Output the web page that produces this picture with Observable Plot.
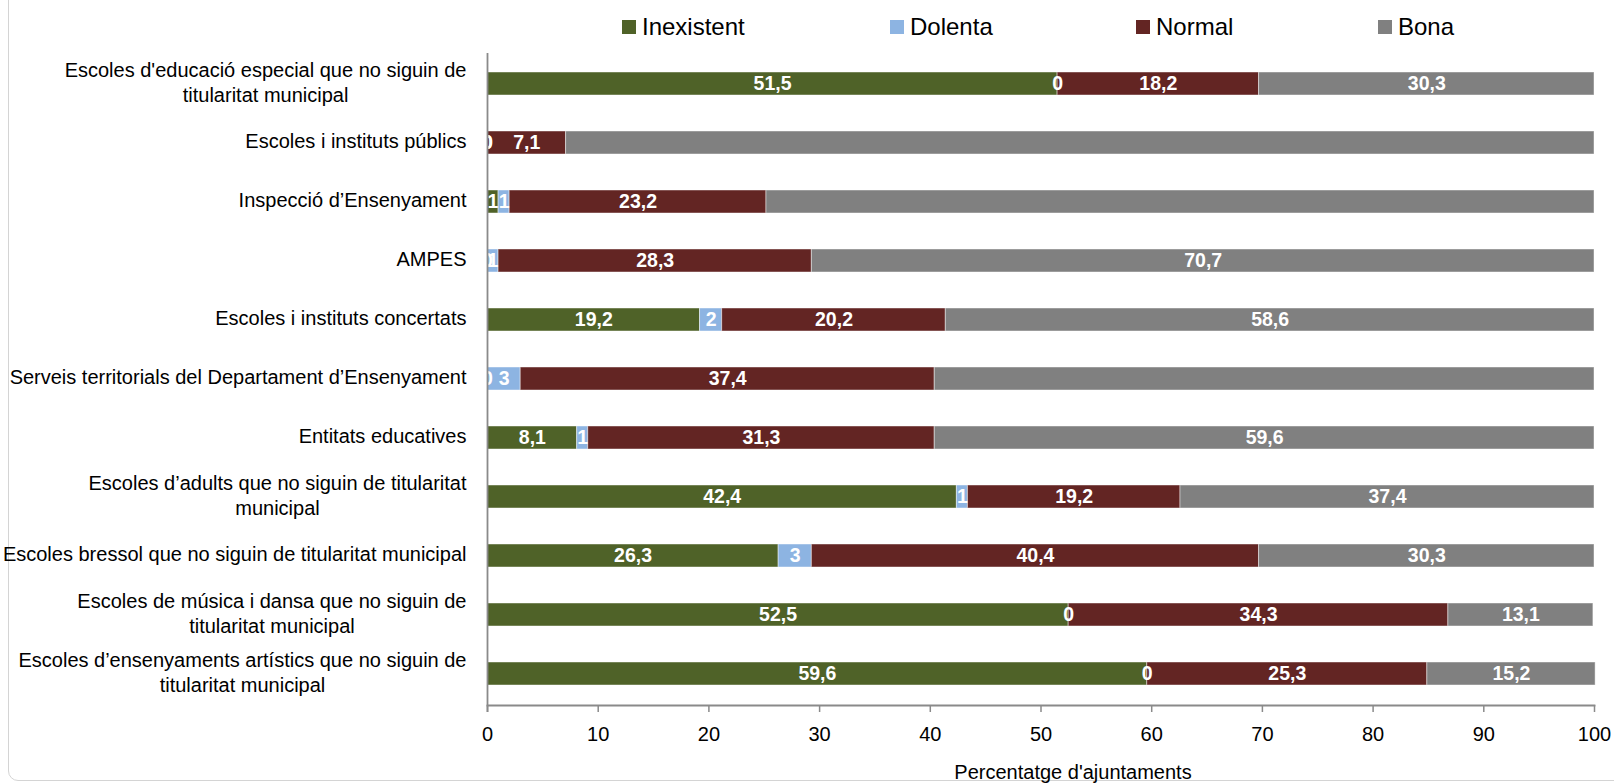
<!DOCTYPE html>
<html>
<head>
<meta charset="utf-8">
<script src="https://cdn.jsdelivr.net/npm/d3@7"></script>
<script src="https://cdn.jsdelivr.net/npm/@observablehq/plot@0.6"></script>
<style>
  html, body { margin: 0; padding: 0; background: #fff; overflow: hidden; }
  #wrap { position: relative; width: 1614px; height: 784px; font-family: "Liberation Sans", Arial, sans-serif; }
  #border { position: absolute; left: 8px; top: -20px; width: 1700px; height: 801px; border: 1px solid #d4d4d4; border-radius: 10px; box-sizing: border-box; }
  #legend { position: absolute; left: 0; top: 0; width: 1614px; height: 50px; }
  .item { position: absolute; top: 12px; height: 30px; display: flex; align-items: center; font-size: 24px; color: #000; white-space: nowrap; }
  .sw { width: 14px; height: 14px; margin-right: 6px; }
  #chart { position: absolute; left: 0; top: 0; }
</style>
</head>
<body>
<div id="wrap">
  <div id="border"></div>
  <div id="chart"></div>
  <div id="legend"></div>
</div>
<script>
const categories = [
  "Escoles d'educació especial que no siguin de\ntitularitat municipal",
  "Escoles i instituts públics",
  "Inspecció d’Ensenyament",
  "AMPES",
  "Escoles i instituts concertats",
  "Serveis territorials del Departament d’Ensenyament",
  "Entitats educatives",
  "Escoles d’adults que no siguin de titularitat\nmunicipal",
  "Escoles bressol que no siguin de titularitat municipal",
  "Escoles de música i dansa que no siguin de\ntitularitat municipal",
  "Escoles d’ensenyaments artístics que no siguin de\ntitularitat municipal"
];
const seriesNames = ["Inexistent", "Dolenta", "Normal", "Bona"];
const seriesColors = ["#4F6228", "#8DB4E2", "#632523", "#808080"];
const inexistent = [51.5, 0, 1, 0, 19.2, 0, 8.1, 42.4, 26.3, 52.5, 59.6];
const dolenta    = [0, 0, 1, 1, 2, 3, 1, 1, 3, 0, 0];
const normal     = [18.2, 7.1, 23.2, 28.3, 20.2, 37.4, 31.3, 19.2, 40.4, 34.3, 25.3];
const bona       = [30.3, 92.9, 74.8, 70.7, 58.6, 59.6, 59.6, 37.4, 30.3, 13.1, 15.2];
const hiddenBonaLabels = [1, 2, 5];
const xTicks = [0, 10, 20, 30, 40, 50, 60, 70, 80, 90, 100];
const xLabel = "Percentatge d'ajuntaments";

const seriesValues = [inexistent, dolenta, normal, bona];
const data = [];
categories.forEach((cat, i) => {
  seriesNames.forEach((s, j) => {
    data.push({
      cat, series: s, value: seriesValues[j][i],
      showLabel: !(s === "Bona" && hiddenBonaLabels.includes(i))
    });
  });
});
const fmt = v => String(v).replace(".", ",");

const plot = Plot.plot({
  width: 1614,
  height: 784,
  marginLeft: 487,
  marginRight: 20,
  marginTop: 53,
  marginBottom: 79,
  style: { fontFamily: "Liberation Sans, Arial, sans-serif", fontSize: "20px", background: "transparent" },
  x: { domain: [0, 100], axis: null },
  y: { domain: categories, axis: null, paddingInner: 0.607, paddingOuter: 0.3035 },
  color: { domain: seriesNames, range: seriesColors },
  marks: [
    Plot.barX(data, Plot.stackX({
      x: "value", y: "cat", fill: "series", order: seriesNames,
      stroke: "white", strokeOpacity: 0.45, strokeWidth: 1
    })),
    Plot.text(data, Plot.stackX({
      x: "value", y: "cat", z: "series", order: seriesNames,
      text: d => d.showLabel ? fmt(d.value) : "",
      fill: "white", fontWeight: "bold", fontSize: 19.5
    })),
    Plot.frame({ anchor: "bottom", stroke: "#8a8a8a", strokeWidth: 1.8 }),
    Plot.ruleX([0], { stroke: "#8a8a8a", strokeWidth: 1.8, insetBottom: -7 }),
    Plot.axisX({
      ticks: xTicks, tickSize: 7, tickPadding: 14,
      stroke: "#8a8a8a", strokeWidth: 1.5, fill: "#000", fontSize: 20,
      tickFormat: d => String(d), label: null
    }),
    Plot.axisY({
      tickSize: 0, tickPadding: 21, lineHeight: 1.25, dy: -3,
      fill: "#000", fontSize: 20, label: null
    }),
    Plot.text([xLabel], {
      frameAnchor: "bottom", dx: 32, dy: 73, fontSize: 20, fill: "#000"
    })
  ]
});
document.getElementById("chart").appendChild(plot);

// center multi-line category labels (as in the original) around the widest line
const yAxisG = plot.querySelector('g[aria-label="y-axis tick label"]');
if (yAxisG) {
  yAxisG.querySelectorAll("text").forEach(t => {
    const spans = t.querySelectorAll("tspan");
    if (spans.length > 1) {
      let w = 0;
      spans.forEach(s => { w = Math.max(w, s.getComputedTextLength()); });
      t.setAttribute("text-anchor", "middle");
      spans.forEach(s => s.setAttribute("x", String(-w / 2)));
    }
  });
}

// legend
const color = plot.scale("color");
const legendLefts = [622, 890, 1136, 1378];
const legend = document.getElementById("legend");
seriesNames.forEach((s, i) => {
  const item = document.createElement("div");
  item.className = "item";
  item.style.left = legendLefts[i] + "px";
  const sw = document.createElement("div");
  sw.className = "sw";
  sw.style.background = color.apply(s);
  const lab = document.createElement("span");
  lab.textContent = s;
  item.appendChild(sw);
  item.appendChild(lab);
  legend.appendChild(item);
});
</script>
</body>
</html>
